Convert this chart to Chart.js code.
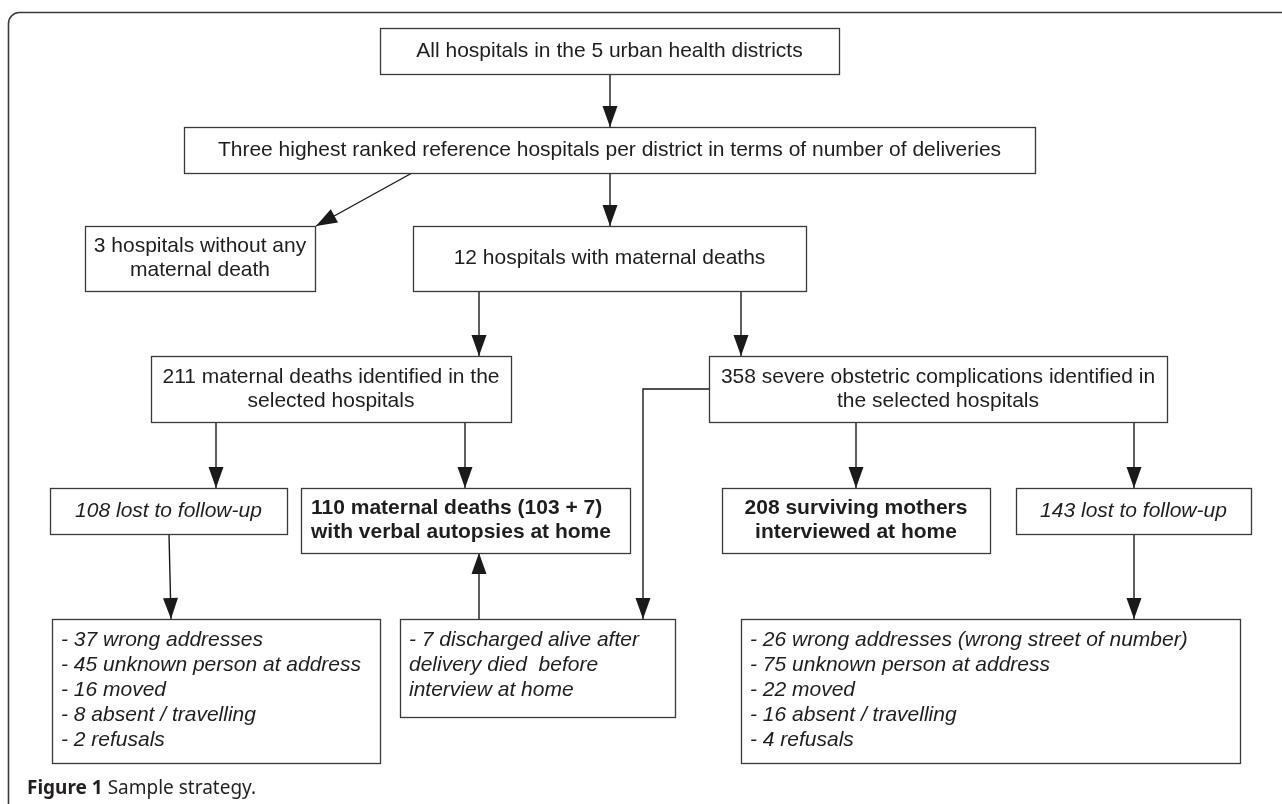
<!DOCTYPE html>
<html><head><meta charset="utf-8">
<script src="https://cdn.jsdelivr.net/npm/chart.js@4.4.1/dist/chart.umd.min.js"></script>
<style>html,body{margin:0;padding:0;background:#fff;}#wrap{width:1282px;height:804px;position:relative;}</style>
</head><body><div id="wrap"><canvas id="c" width="1282" height="804"></canvas></div>
<script>
// ---- Content (flowchart nodes) ----
const nodeIds = ['all','top3','none','withDeaths','deaths','complications','lostDeaths','verbal','surviving','lostComp','reasonsDeaths','discharged','reasonsComp'];
const nodeText = [
  ['All hospitals in the 5 urban health districts'],
  ['Three highest ranked reference hospitals per district in terms of number of deliveries'],
  ['3 hospitals without any','maternal death'],
  ['12 hospitals with maternal deaths'],
  ['211 maternal deaths identified in the','selected hospitals'],
  ['358 severe obstetric complications identified in','the selected hospitals'],
  ['108 lost to follow-up'],
  ['110 maternal deaths (103 + 7)','with verbal autopsies at home'],
  ['208 surviving mothers','interviewed at home'],
  ['143 lost to follow-up'],
  ['- 37 wrong addresses','- 45 unknown person at address','- 16 moved','- 8 absent / travelling','- 2 refusals'],
  ['- 7 discharged alive after','delivery died  before','interview at home'],
  ['- 26 wrong addresses (wrong street of number)','- 75 unknown person at address','- 22 moved','- 16 absent / travelling','- 4 refusals']
];
// flow links: [from, to]
const linkFrom = ['all','top3','top3','withDeaths','withDeaths','deaths','deaths','complications','discharged','complications','complications','lostDeaths','lostComp'];
const linkTo   = ['top3','none','withDeaths','deaths','complications','lostDeaths','verbal','discharged','verbal','surviving','lostComp','reasonsDeaths','reasonsComp'];
const captionBold = 'Figure 1';
const captionText = ' Sample strategy.';

// ---- Layout (positions in axis units) ----
const layout = {
  all:[380,28,839,74], top3:[184,127,1035,173], none:[85,226,315,291], withDeaths:[413,226,806,291],
  deaths:[151,356,511,422], complications:[709,356,1167,422],
  lostDeaths:[50,488,287,534], verbal:[301,488,630,553], surviving:[722,488,990,553], lostComp:[1016,488,1251,534],
  reasonsDeaths:[52,619,380,763], discharged:[400,619,675,717], reasonsComp:[741,619,1240,763]
};
const nodeStyle = {
  lostDeaths:{font:'italic',align:'center'}, lostComp:{font:'italic',align:'center'},
  verbal:{font:'bold',align:'left',pad:10}, surviving:{font:'bold',align:'center'},
  reasonsDeaths:{font:'italic',align:'left',pad:9,list:true}, discharged:{font:'italic',align:'left',pad:9,list:true},
  reasonsComp:{font:'italic',align:'left',pad:9,list:true}
};
const linkPaths = [
  [[610,74],[610,127]], [[412,173],[316,226]], [[610,173],[610,226]],
  [[479,291],[479,356]], [[741,291],[741,356]],
  [[216,422],[216,488]], [[465,422],[465,488]],
  [[709,389],[643,389],[643,619]], [[479,619],[479,553]],
  [[856,422],[856,488]], [[1134,422],[1134,488]],
  [[169,534],[171,619]], [[1134,534],[1134,619]]
];

const FONT = '"Liberation Sans", Arial, sans-serif';
const flowPlugin = {
  id:'flow',
  afterDraw(chart){
    const ctx = chart.ctx, xs = chart.scales.x, ys = chart.scales.y;
    const X = v => xs.getPixelForValue(v), Y = v => ys.getPixelForValue(v);
    ctx.save();
    // frame
    ctx.strokeStyle = '#3a3a3a'; ctx.lineWidth = 1.6;
    ctx.beginPath();
    ctx.moveTo(X(8.5), Y(804)); ctx.lineTo(X(8.5), Y(24));
    ctx.arcTo(X(8.5), Y(12.5), X(20), Y(12.5), 11);
    ctx.lineTo(X(1282), Y(12.5)); ctx.stroke();
    // links
    ctx.strokeStyle = '#1a1a1a'; ctx.fillStyle = '#1a1a1a'; ctx.lineWidth = 1.4;
    linkPaths.forEach(p => {
      ctx.beginPath();
      p.forEach((pt,i) => { const px=X(pt[0]), py=Y(pt[1]); i?ctx.lineTo(px,py):ctx.moveTo(px,py); });
      const a = p[p.length-2], b = p[p.length-1];
      const ax=X(a[0]), ay=Y(a[1]), bx=X(b[0]), by=Y(b[1]);
      const ang = Math.atan2(by-ay, bx-ax), L=21, W=7.5;
      ctx.stroke();
      ctx.beginPath();
      ctx.moveTo(bx,by);
      ctx.lineTo(bx - L*Math.cos(ang) + W*Math.sin(ang), by - L*Math.sin(ang) - W*Math.cos(ang));
      ctx.lineTo(bx - L*Math.cos(ang) - W*Math.sin(ang), by - L*Math.sin(ang) + W*Math.cos(ang));
      ctx.closePath(); ctx.fill();
    });
    // boxes
    nodeIds.forEach((id,i) => {
      const r = layout[id], st = nodeStyle[id] || {font:'normal',align:'center'};
      const x0=X(r[0]), y0=Y(r[1]), x1=X(r[2]), y1=Y(r[3]);
      ctx.fillStyle='#fff'; ctx.fillRect(x0,y0,x1-x0,y1-y0);
      ctx.strokeStyle='#3a3a3a'; ctx.lineWidth=1.3;
      ctx.strokeRect(Math.round(x0)+0.5, Math.round(y0)+0.5, Math.round(x1-x0), Math.round(y1-y0));
      const lines = nodeText[i];
      const fs = 21;
      ctx.font = (st.font==='bold'?'bold ':st.font==='italic'?'italic ':'') + fs + 'px ' + FONT;
      ctx.fillStyle = '#1e1e1e'; ctx.textBaseline = 'middle';
      ctx.textAlign = st.align;
      let lh = st.list ? 25 : 24;
      let ty0;
      if (st.list) ty0 = y0 + 21; else ty0 = (y0+y1)/2 - (lines.length-1)*lh/2;
      const tx = st.align==='center' ? (x0+x1)/2 : x0 + st.pad;
      lines.forEach((ln,k) => ctx.fillText(ln, tx, ty0 + k*lh));
    });
    // caption
    ctx.textAlign='left'; ctx.textBaseline='middle'; ctx.fillStyle='#231f20';
    ctx.font = 'bold 19px "Noto Sans", "Open Sans", sans-serif';
    ctx.fillText(captionBold, X(27), Y(789));
    const w = ctx.measureText(captionBold).width;
    ctx.font = '19px "Noto Sans", "Open Sans", sans-serif';
    ctx.fillText(captionText, X(27)+w, Y(789));
    ctx.restore();
  }
};

new Chart(document.getElementById('c'), {
  type:'scatter',
  data:{datasets:[]},
  options:{
    responsive:false, animation:false, events:[],
    layout:{padding:0},
    plugins:{legend:{display:false}, tooltip:{enabled:false}},
    scales:{
      x:{type:'linear', min:0, max:1282, display:false},
      y:{type:'linear', min:0, max:804, reverse:true, display:false}
    }
  },
  plugins:[flowPlugin]
});
</script></body></html>
